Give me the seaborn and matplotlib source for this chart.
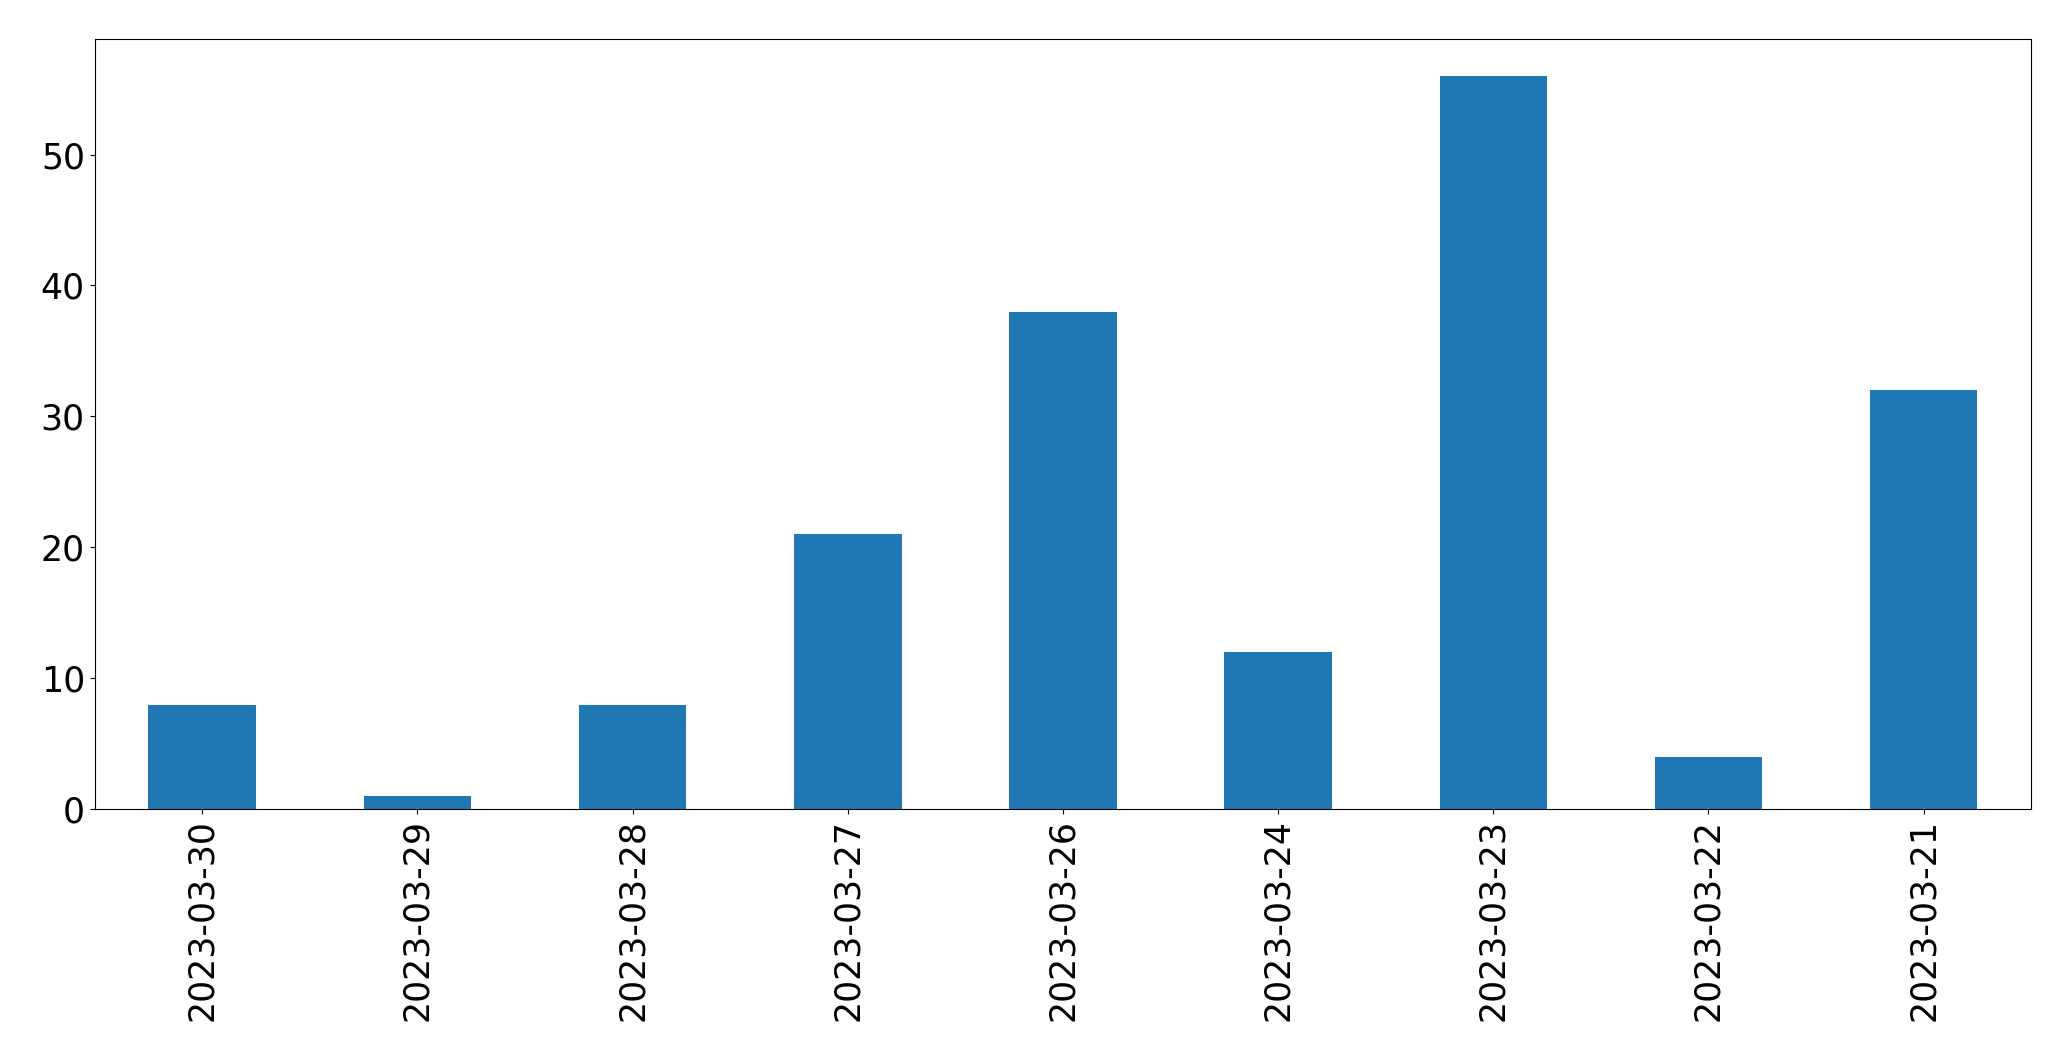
import matplotlib
matplotlib.use("Agg")
import matplotlib.pyplot as plt
import seaborn as sns
import pandas as pd

# Data
dates = ["2023-03-30", "2023-03-29", "2023-03-28", "2023-03-27", "2023-03-26",
         "2023-03-24", "2023-03-23", "2023-03-22", "2023-03-21"]
counts = [8, 1, 8, 21, 38, 12, 56, 4, 32]

df = pd.DataFrame({"date": dates, "count": counts})

fig, ax = plt.subplots(figsize=(20.71, 10.61), dpi=100)
sns.barplot(data=df, x="date", y="count", order=dates, color="#1f77b4",
            saturation=1, width=0.5, linewidth=0, ax=ax)

ax.set_xlim(-0.5, len(dates) - 0.5)
ax.set_ylim(0, max(counts) * 1.05)
ax.set_xlabel("")
ax.set_ylabel("")
ax.tick_params(axis="both", labelsize=25)
ax.tick_params(axis="x", labelrotation=90)

plt.subplots_adjust(left=0.0457, right=0.9808, top=0.963, bottom=0.2372)
plt.savefig("out.png", dpi=100)
